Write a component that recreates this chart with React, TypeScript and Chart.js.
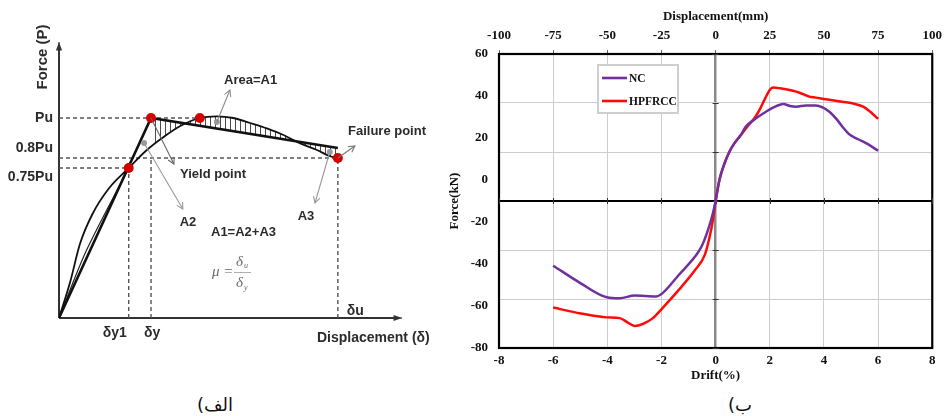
import React, { useEffect, useRef } from 'react';
import { Chart, registerables } from 'chart.js';
Chart.register(...registerables);

// ---------- Left panel (schematic) data ----------
const deltaY1 = 25;
const deltaY = 33;
const deltaU = 100;
const peakX = 50.5;
const Pu = 1.0;
const failureP = 0.8;
const bilinearEndP = 0.85;
const schemXMax = 123;
const schemYMax = 1.38;

const curveX = [0, 4, 7.5, 12, 18, 25, 31.5, 38.5, 43.5, 50.5, 56.5, 62.5, 68.5, 74.5, 80.5, 86.5, 92.5, 97, 100];
const curveY = [0, 0.18, 0.37, 0.52, 0.65, 0.75, 0.84, 0.915, 0.96, 1.0, 1.008, 1.0, 0.975, 0.948, 0.915, 0.873, 0.84, 0.81, 0.8];
const secantX = [0, 9.9, 25];
const secantY = [0, 0.34, 0.75];
const yLevelLabels = ['Pu', '0.8Pu', '0.75Pu'];
const xLevelLabels = ['δy1', 'δy', 'δu'];

// ---------- Right panel data ----------
const ncDrift = [-6.0, -4.98, -4.02, -3.54, -2.99, -2.21, -1.97, -1.36, -0.76, -0.52, -0.28, -0.10, 0, 0.14, 0.33, 0.51, 0.69, 0.93, 1.11, 1.41, 1.77, 2.14, 2.50, 2.74, 2.98, 3.34, 3.70, 3.95, 4.19, 4.49, 4.73, 4.97, 5.27, 5.64, 6.0];
const ncForce = [-26.4, -33.6, -39.3, -39.7, -38.6, -39.0, -37.7, -30.2, -22.7, -18.6, -11.8, -5.0, 0, 8.6, 15.4, 20.1, 23.5, 26.9, 30.3, 33.1, 35.8, 38.2, 39.6, 38.8, 38.5, 39.0, 39.0, 38.2, 36.5, 33.1, 29.7, 26.9, 25.2, 23.1, 20.5];
const hpDrift = [-6.0, -4.98, -4.02, -3.54, -3.23, -2.99, -2.69, -2.33, -1.97, -1.36, -0.76, -0.40, -0.22, -0.10, 0, 0.14, 0.33, 0.51, 0.69, 0.93, 1.17, 1.47, 1.65, 1.83, 2.02, 2.14, 2.38, 2.86, 3.10, 3.46, 3.70, 4.07, 4.67, 5.15, 5.45, 5.70, 6.0];
const hpForce = [-43.5, -45.9, -47.5, -47.8, -49.7, -51.0, -50.2, -47.9, -43.8, -36.3, -28.2, -22.0, -14.6, -7.8, 0, 8.6, 15.4, 20.1, 23.5, 26.9, 30.3, 34.4, 37.8, 41.9, 45.6, 46.3, 46.0, 45.0, 44.2, 42.6, 42.2, 41.5, 40.5, 39.6, 38.5, 36.5, 33.5];
const seriesNames = ['NC', 'HPFRCC'];
const seriesColors = ['#7030a0', '#ff0a0a'];
const driftRange = [-8, 8, 2];
const dispRange = [-100, 100, 25];
const forceLabelRange = [-80, 60, 20];
const forceGridRange = [-60, 60, 20];

const SANS = '"Liberation Sans", Arial, sans-serif';
const SERIF = '"Liberation Serif", "Times New Roman", serif';

const pts = (xs: number[], ys: number[]) => xs.map((x, i) => ({ x, y: ys[i] }));

function arrow(ctx: CanvasRenderingContext2D, x1: number, y1: number, x2: number, y2: number, color: string, filled = false) {
  ctx.save();
  ctx.strokeStyle = color;
  ctx.fillStyle = color;
  ctx.lineWidth = 1.1;
  ctx.beginPath();
  ctx.moveTo(x1, y1);
  ctx.lineTo(x2, y2);
  ctx.stroke();
  const a = Math.atan2(y2 - y1, x2 - x1);
  const L = filled ? 9 : 7;
  const s = filled ? 0.35 : 0.5;
  ctx.beginPath();
  ctx.moveTo(x2 - L * Math.cos(a - s), y2 - L * Math.sin(a - s));
  ctx.lineTo(x2, y2);
  ctx.lineTo(x2 - L * Math.cos(a + s), y2 - L * Math.sin(a + s));
  if (filled) { ctx.closePath(); ctx.fill(); } else ctx.stroke();
  ctx.restore();
}

const schematicPlugin = {
  id: 'schematicPlugin',
  beforeDatasetsDraw(chart: any) {
    const { ctx } = chart;
    const X = (v: number) => chart.scales.x.getPixelForValue(v);
    const Y = (v: number) => chart.scales.y.getPixelForValue(v);
    ctx.save();
    ctx.strokeStyle = '#333';
    ctx.lineWidth = 2;
    ctx.beginPath();
    ctx.moveTo(X(0), Y(0));
    ctx.lineTo(X(0), Y(schemYMax) + 6);
    ctx.moveTo(X(0), Y(0));
    ctx.lineTo(X(schemXMax) - 6, Y(0));
    ctx.stroke();
    ctx.restore();
    arrow(ctx, X(0), Y(0), X(0), Y(schemYMax), '#333', true);
    arrow(ctx, X(0), Y(0), X(schemXMax), Y(0), '#333', true);
  },
  afterDatasetsDraw(chart: any) {
    const { ctx } = chart;
    const X = (v: number) => chart.scales.x.getPixelForValue(v);
    const Y = (v: number) => chart.scales.y.getPixelForValue(v);
    const grayDots = [[56.6, 0.98], [30.5, 0.875], [97.1, 0.83]];
    ctx.save();
    ctx.fillStyle = '#9a9a9a';
    grayDots.forEach(([gx, gy]) => { ctx.beginPath(); ctx.arc(X(gx), Y(gy), 3, 0, Math.PI * 2); ctx.fill(); });
    ctx.restore();
    arrow(ctx, X(56.6), Y(0.98), X(61.3), Y(1.14), '#8c8c8c');
    arrow(ctx, X(deltaY), Y(Pu), X(41.2), Y(0.77), '#666');
    arrow(ctx, X(30.5), Y(0.875), X(44.4), Y(0.545), '#999');
    arrow(ctx, X(97.1), Y(0.83), X(91.8), Y(0.575), '#999');
    arrow(ctx, X(deltaU), Y(failureP), X(106.1), Y(0.86), '#777');

    ctx.save();
    ctx.fillStyle = '#2b2b2b';
    ctx.textBaseline = 'middle';
    ctx.font = `bold 14px ${SANS}`;
    ctx.textAlign = 'right';
    ctx.fillText(yLevelLabels[0], 53, Y(Pu));
    ctx.fillText(yLevelLabels[1], 53, Y(failureP) - 10);
    ctx.fillText(yLevelLabels[2], 53, Y(0.75) + 9);
    ctx.textAlign = 'center';
    ctx.fillText(xLevelLabels[0], X(deltaY1) - 14, Y(0) + 15);
    ctx.fillText(xLevelLabels[1], X(deltaY) + 1, Y(0) + 15);
    ctx.textAlign = 'left';
    ctx.fillText(xLevelLabels[2], X(deltaU) + 9, Y(0) - 7);
    ctx.fillText('Displacement (δ)', 317, 338);
    ctx.save();
    ctx.translate(43, 57);
    ctx.rotate(-Math.PI / 2);
    ctx.textAlign = 'center';
    ctx.font = `bold 15px ${SANS}`;
    ctx.fillText('Force (P)', 0, 0);
    ctx.restore();
    ctx.font = `bold 13px ${SANS}`;
    ctx.textAlign = 'left';
    ctx.fillText('Area=A1', 224, 80);
    ctx.fillText('Failure point', 348, 131);
    ctx.fillText('Yield point', 180, 174);
    ctx.fillText('A1=A2+A3', 211, 232);
    ctx.textAlign = 'center';
    ctx.fillText('A2', 188, 222);
    ctx.fillText('A3', 306, 216);
    ctx.fillStyle = '#6a6a6a';
    ctx.font = `italic 15px ${SERIF}`;
    ctx.textAlign = 'left';
    ctx.fillText('μ =', 212, 272);
    ctx.fillText('δ', 236, 262);
    ctx.fillText('δ', 236, 283);
    ctx.font = `italic 8px ${SERIF}`;
    ctx.fillText('u', 244, 266);
    ctx.fillText('y', 244, 288);
    ctx.strokeStyle = '#9a9a9a';
    ctx.lineWidth = 0.8;
    ctx.beginPath();
    ctx.moveTo(234, 272.5);
    ctx.lineTo(251, 272.5);
    ctx.stroke();
    ctx.restore();
  },
};

function LeftChart() {
  const ref = useRef<HTMLCanvasElement>(null);
  useEffect(() => {
    const pc = document.createElement('canvas');
    pc.width = 5; pc.height = 10;
    const pctx = pc.getContext('2d')!;
    pctx.strokeStyle = '#4a4a4a';
    pctx.lineWidth = 1;
    pctx.beginPath(); pctx.moveTo(0.5, 0); pctx.lineTo(0.5, 10); pctx.stroke();
    const pattern = ref.current!.getContext('2d')!.createPattern(pc, 'repeat');
    const dash = { borderColor: '#555', borderWidth: 1.4, borderDash: [4, 3], pointRadius: 0, showLine: true, fill: false };
    const chart = new Chart(ref.current!, {
      type: 'scatter',
      data: {
        datasets: [
          { label: 'key points', data: [{ x: deltaY1, y: 0.75 }, { x: deltaY, y: Pu }, { x: peakX, y: Pu }, { x: deltaU, y: failureP }], backgroundColor: '#d40000', borderWidth: 0, pointRadius: 5, showLine: false },
          { label: 'bilinear', data: [{ x: 0, y: 0 }, { x: deltaY, y: Pu }, { x: deltaU, y: bilinearEndP }], borderColor: '#111', borderWidth: 2.6, pointRadius: 0, showLine: true, fill: false },
          { label: 'post-yield', data: [{ x: deltaY, y: Pu }, { x: deltaU, y: bilinearEndP }], borderWidth: 0, borderColor: 'rgba(0,0,0,0)', pointRadius: 0, showLine: true, fill: 3, backgroundColor: pattern as any },
          { label: 'curve', data: pts(curveX, curveY), borderColor: '#111', borderWidth: 1.8, pointRadius: 0, showLine: true, cubicInterpolationMode: 'monotone', fill: false },
          { label: 'secant', data: pts(secantX, secantY), borderColor: '#222', borderWidth: 1.2, pointRadius: 0, showLine: true, tension: 0.3, fill: false },
          { label: 'Pu', data: [{ x: 0, y: Pu }, { x: peakX, y: Pu }], ...dash },
          { label: '0.8Pu', data: [{ x: 0, y: failureP }, { x: deltaU, y: failureP }], ...dash },
          { label: '0.75Pu', data: [{ x: 0, y: 0.75 }, { x: deltaY1, y: 0.75 }], ...dash },
          { label: 'dy1', data: [{ x: deltaY1, y: 0 }, { x: deltaY1, y: 0.75 }], ...dash },
          { label: 'dy', data: [{ x: deltaY, y: 0 }, { x: deltaY, y: failureP }], ...dash },
          { label: 'du', data: [{ x: deltaU, y: 0 }, { x: deltaU, y: failureP }], ...dash },
        ] as any,
      },
      options: {
        responsive: false,
        animation: false,
        devicePixelRatio: 1,
        layout: { padding: { left: 59, top: 42, right: 48, bottom: 62 } },
        plugins: { legend: { display: false }, tooltip: { enabled: false }, filler: { drawTime: 'beforeDatasetsDraw' } } as any,
        scales: {
          x: { type: 'linear', min: 0, max: schemXMax, display: false },
          y: { type: 'linear', min: 0, max: schemYMax, display: false },
        },
      },
      plugins: [schematicPlugin],
    });
    return () => chart.destroy();
  }, []);
  return <canvas ref={ref} width={450} height={380} style={{ width: 450, height: 380, display: 'block' }} />;
}

const frameLegendPlugin = {
  id: 'frameLegend',
  beforeDatasetsDraw(chart: any) {
    const { ctx, chartArea: a } = chart;
    const xs = chart.scales.x, ys = chart.scales.yData;
    ctx.save();
    ctx.strokeStyle = '#000';
    ctx.lineWidth = 2.2;
    ctx.strokeRect(a.left, a.top, a.right - a.left, a.bottom - a.top);
    // small tick marks on the zero axes
    ctx.strokeStyle = '#333';
    ctx.lineWidth = 1;
    const y0 = ys.getPixelForValue(0);
    const x0 = xs.getPixelForValue(0);
    ctx.beginPath();
    xs.ticks.forEach((t: any) => {
      const px = Math.round(xs.getPixelForValue(t.value)) + 0.5;
      ctx.moveTo(px, y0 - 3); ctx.lineTo(px, y0 + 3);
    });
    ys.ticks.forEach((t: any) => {
      const py = Math.round(ys.getPixelForValue(t.value)) + 0.5;
      ctx.moveTo(x0 - 3, py); ctx.lineTo(x0 + 3, py);
    });
    ctx.stroke();
    ctx.restore();
  },
  afterDraw(chart: any) {
    const { ctx } = chart;
    const bx = 158, by = 65, bw = 80, bh = 48;
    ctx.save();
    ctx.fillStyle = '#fff';
    ctx.fillRect(bx, by, bw, bh);
    ctx.strokeStyle = '#cfcfcf';
    ctx.lineWidth = 2;
    ctx.strokeRect(bx, by, bw, bh);
    chart.data.datasets.forEach((ds: any, i: number) => {
      const yy = by + 13 + i * 23;
      ctx.strokeStyle = ds.borderColor;
      ctx.lineWidth = 2.6;
      ctx.beginPath();
      ctx.moveTo(bx + 4, yy);
      ctx.lineTo(bx + 29, yy);
      ctx.stroke();
      ctx.fillStyle = '#111';
      ctx.font = `bold 11.5px ${SERIF}`;
      ctx.textBaseline = 'middle';
      ctx.textAlign = 'left';
      ctx.fillText(ds.label, bx + 31, yy + 1);
    });
    ctx.restore();
  },
};

function RightChart() {
  const ref = useRef<HTMLCanvasElement>(null);
  useEffect(() => {
    const tickFont = { family: SERIF, size: 13, weight: 'bold' as const };
    const chart = new Chart(ref.current!, {
      type: 'line',
      data: {
        datasets: [
          { label: seriesNames[0], data: pts(ncDrift, ncForce), borderColor: seriesColors[0], borderWidth: 2.5, pointRadius: 0, cubicInterpolationMode: 'monotone', xAxisID: 'x', yAxisID: 'yData', fill: false },
          { label: seriesNames[1], data: pts(hpDrift, hpForce), borderColor: seriesColors[1], borderWidth: 2.5, pointRadius: 0, cubicInterpolationMode: 'monotone', xAxisID: 'x', yAxisID: 'yData', fill: false },
        ] as any,
      },
      options: {
        responsive: false,
        animation: false,
        devicePixelRatio: 1,
        layout: { padding: { left: 0, top: 0, right: 7, bottom: 0 } },
        plugins: { legend: { display: false }, tooltip: { enabled: false } },
        scales: {
          x: {
            type: 'linear', position: 'bottom', min: driftRange[0], max: driftRange[1],
            ticks: { stepSize: driftRange[2], font: tickFont, color: '#111', padding: 5, maxRotation: 0 },
            grid: { drawTicks: false, color: (c: any) => (c.tick && c.tick.value === 0 ? '#8a8a8a' : '#cdcdcd'), lineWidth: (c: any) => (c.tick && c.tick.value === 0 ? 2.5 : 1) },
            border: { display: false },
            title: { display: true, text: 'Drift(%)', font: tickFont, color: '#111', padding: { top: 0, bottom: 7 } },
            afterFit: (s: any) => { s.height = 42; },
          },
          x2: {
            type: 'linear', position: 'top', min: dispRange[0], max: dispRange[1],
            ticks: { stepSize: dispRange[2], font: tickFont, color: '#111', padding: 7, maxRotation: 0, autoSkip: false },
            grid: { drawOnChartArea: false, drawTicks: true, tickLength: 4, tickColor: '#666' },
            border: { display: false },
            title: { display: true, text: 'Displacement(mm)', font: tickFont, color: '#111', padding: { top: 9, bottom: 0 } },
            afterFit: (s: any) => { s.height = 54; },
          },
          y: {
            type: 'linear', position: 'left', min: forceLabelRange[0], max: forceLabelRange[1],
            ticks: { stepSize: forceLabelRange[2], font: tickFont, color: '#111', padding: 11 },
            grid: { display: false, drawTicks: false },
            border: { display: false },
            title: { display: true, text: 'Force(kN)', font: tickFont, color: '#111', padding: { top: 7, bottom: 0 } },
            afterFit: (s: any) => { s.width = 59; },
          },
          yData: {
            type: 'linear', position: 'left', min: forceGridRange[0], max: forceGridRange[1],
            ticks: { display: false, stepSize: forceGridRange[2] },
            grid: { drawTicks: false, color: (c: any) => (c.tick && c.tick.value === 0 ? '#000' : '#cdcdcd'), lineWidth: (c: any) => (c.tick && c.tick.value === 0 ? 2 : 1) },
            border: { display: false },
            afterFit: (s: any) => { s.width = 0; },
          },
        } as any,
      },
      plugins: [frameLegendPlugin],
    });
    return () => chart.destroy();
  }, []);
  return <canvas ref={ref} width={509} height={390} style={{ width: 509, height: 390, display: 'block' }} />;
}

export default function App() {
  const caption: React.CSSProperties = {
    position: 'absolute', top: 393, height: 24, lineHeight: '24px', textAlign: 'center',
    direction: 'rtl', fontFamily: '"DejaVu Sans", sans-serif', fontSize: 18, color: '#111',
  };
  return (
    <div style={{ position: 'absolute', left: 0, top: 0, width: 949, height: 416, background: '#fff', overflow: 'hidden' }}>
      <div style={{ position: 'absolute', left: 0, top: 0 }}><LeftChart /></div>
      <div style={{ position: 'absolute', left: 440, top: 0 }}><RightChart /></div>
      <div style={{ ...caption, left: 150, width: 130 }}>الف)</div>
      <div style={{ ...caption, left: 700, width: 80 }}>ب)</div>
    </div>
  );
}
